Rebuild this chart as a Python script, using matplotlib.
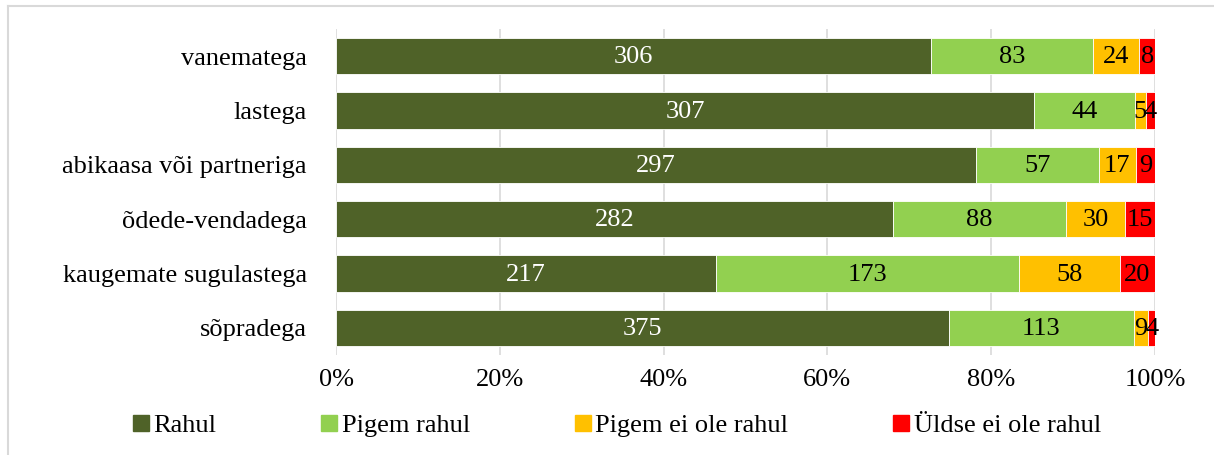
import numpy as np
import matplotlib.pyplot as plt
from matplotlib.lines import Line2D

plt.rcParams['font.family'] = ['Liberation Serif', 'DejaVu Serif']

# andmed
categories = ['vanematega', 'lastega', 'abikaasa või partneriga',
              'õdede-vendadega', 'kaugemate sugulastega', 'sõpradega']
rahul = [306, 307, 297, 282, 217, 375]
pigem_rahul = [83, 44, 57, 88, 173, 113]
pigem_ei = [24, 5, 17, 30, 58, 9]
yldse_ei = [8, 4, 9, 15, 20, 4]

series = [rahul, pigem_rahul, pigem_ei, yldse_ei]
names = ['Rahul', 'Pigem rahul', 'Pigem ei ole rahul', 'Üldse ei ole rahul']
colors = ['#4F6228', '#92D050', '#FFC000', '#FF0000']
text_colors = ['white', 'black', 'black', 'black']

data = np.array(series, dtype=float)
totals = data.sum(axis=0)
shares = data / totals

fs = 19

fig = plt.figure(figsize=(12.14, 4.55), dpi=100)
ax = fig.add_axes([336 / 1214, 1 - 355 / 455, (1155 - 336) / 1214, (355 - 29) / 455])

y = np.arange(len(categories))[::-1]
left = np.zeros(len(categories))
for vals, sh, name, col, tc in zip(series, shares, names, colors, text_colors):
    ax.barh(y, sh, left=left, height=0.67, color=col, edgecolor='white',
            linewidth=0.6, label=name, zorder=2)
    for yi, l, w, v in zip(y, left, sh, vals):
        ax.text(l + w / 2, yi - 0.02, str(v), ha='center', va='center',
                color=tc, fontsize=fs, zorder=3)
    left += sh

ax.set_xlim(0, 1)
ax.set_ylim(-0.5, len(categories) - 0.5)
ax.set_xticks(np.arange(0, 1.01, 0.2))
ax.set_xticklabels([f'{int(round(t * 100))}%' for t in np.arange(0, 1.01, 0.2)])
ax.set_yticks(y)
ax.set_yticklabels(categories)
ax.tick_params(axis='both', length=0, labelsize=fs)
ax.tick_params(axis='x', pad=10)
ax.tick_params(axis='y', pad=21)
ax.grid(axis='x', color='#D9D9D9', linewidth=1.2, zorder=0)
for s in ax.spines.values():
    s.set_visible(False)

# legend
handles = [Line2D([0], [0], marker='s', linestyle='none', markersize=11,
                  markerfacecolor=c, markeredgecolor=c) for c in colors]
fig.legend(handles, names, loc='center', bbox_to_anchor=(0.508, 1 - 425 / 455),
           ncol=4, frameon=False, fontsize=fs, handletextpad=0.15,
           columnspacing=3.95, handlelength=0.65)

# raam
fig.add_artist(Line2D([8 / 1214, 8 / 1214], [0, 1 - 6 / 455],
                      transform=fig.transFigure, color='#D9D9D9', linewidth=1.5))
fig.add_artist(Line2D([8 / 1214, 1], [1 - 6 / 455, 1 - 6 / 455],
                      transform=fig.transFigure, color='#D9D9D9', linewidth=1.5))

fig.savefig('out.png', dpi=100)
